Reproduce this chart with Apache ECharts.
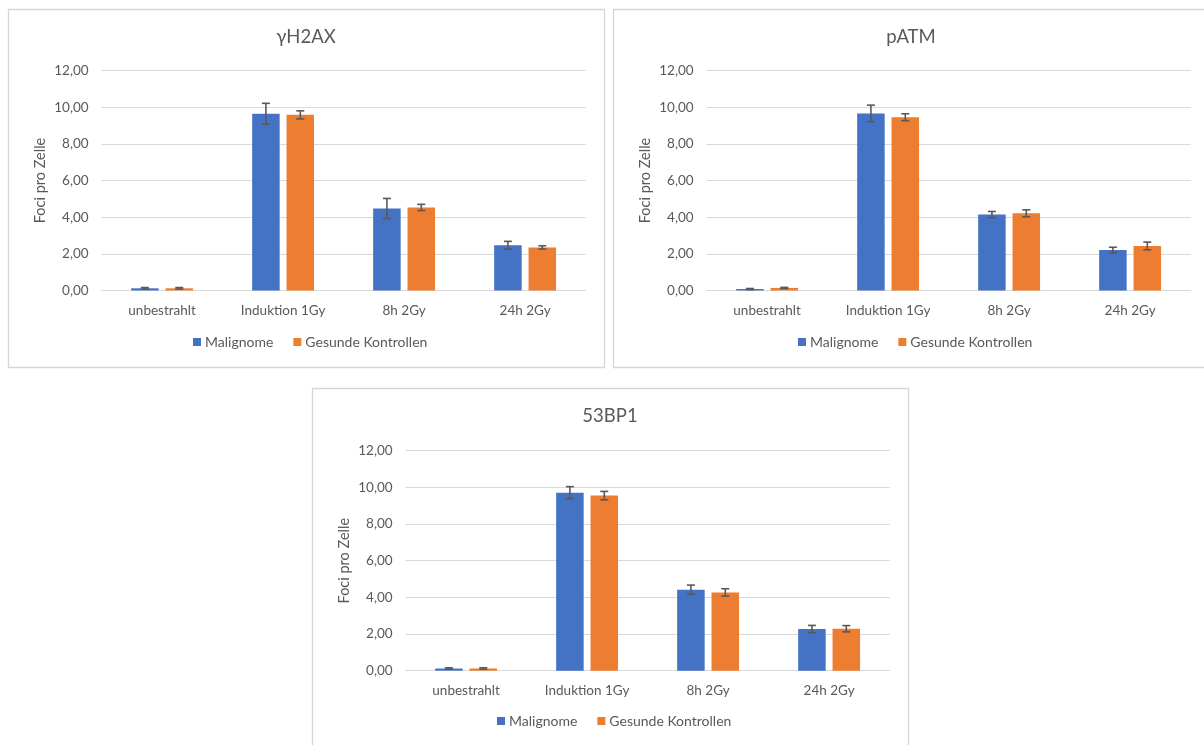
<!DOCTYPE html>
<html>
<head>
<meta charset="utf-8">
<script src="https://cdn.jsdelivr.net/npm/echarts@6/dist/echarts.min.js"></script>
<style>
  html, body { margin: 0; padding: 0; background: #ffffff; overflow: hidden; }
  #chart { width: 1204px; height: 745px; }
</style>
</head>
<body>
<div id="chart"></div>
<script>
// ---- data ----
const categories = ['unbestrahlt', 'Induktion 1Gy', '8h 2Gy', '24h 2Gy'];
const seriesNames = ['Malignome', 'Gesunde Kontrollen'];
const yTicks = [0, 2, 4, 6, 8, 10, 12];

// γH2AX
const h2axMalignome = [0.12, 9.64, 4.47, 2.47];
const h2axMalignomeErr = [0.04, 0.57, 0.55, 0.21];
const h2axGesund = [0.12, 9.58, 4.53, 2.35];
const h2axGesundErr = [0.04, 0.22, 0.17, 0.09];

// pATM
const patmMalignome = [0.08, 9.66, 4.14, 2.21];
const patmMalignomeErr = [0.03, 0.45, 0.17, 0.15];
const patmGesund = [0.14, 9.45, 4.21, 2.43];
const patmGesundErr = [0.03, 0.19, 0.19, 0.21];

// 53BP1
const bp1Malignome = [0.12, 9.71, 4.42, 2.27];
const bp1MalignomeErr = [0.04, 0.33, 0.25, 0.20];
const bp1Gesund = [0.12, 9.55, 4.27, 2.29];
const bp1GesundErr = [0.04, 0.23, 0.20, 0.17];

const panelData = [
  { title: 'γH2AX', values: [h2axMalignome, h2axGesund], errors: [h2axMalignomeErr, h2axGesundErr] },
  { title: 'pATM',  values: [patmMalignome, patmGesund], errors: [patmMalignomeErr, patmGesundErr] },
  { title: '53BP1', values: [bp1Malignome, bp1Gesund], errors: [bp1MalignomeErr, bp1GesundErr] }
];

// ---- layout & style ----
const panelBoxes = [
  { x: 8,   y: 9,   w: 596, h: 358, plotTop: 70.5 },
  { x: 613, y: 9,   w: 596, h: 358, plotTop: 70.5 },
  { x: 312, y: 388, w: 596, h: 358, plotTop: 450.7 }
];
const FONT = 'Lato, "Open Sans", sans-serif';
const TEXT = '#595959';
const GRID_LINE = '#d9d9d9';
const COLORS = ['#4472C4', '#ED7D31'];
const BAR_W = 27.5;
const BAR_GAP = 0.25;
const BAR_SHIFT = BAR_W * (1 + BAR_GAP) / 2;

const grids = [], xAxes = [], yAxes = [], series = [], legends = [], graphics = [];

panelData.forEach((p, i) => {
  const b = panelBoxes[i];
  grids.push({ left: b.x + 93.6, top: b.plotTop, width: 484, height: 220 });

  xAxes.push({
    type: 'category', gridIndex: i, data: categories,
    axisLine: { lineStyle: { color: GRID_LINE, width: 1.2 } },
    axisTick: { show: false },
    axisLabel: { color: TEXT, fontFamily: FONT, fontSize: 13.5, margin: 13 }
  });

  yAxes.push({
    type: 'value', gridIndex: i,
    min: yTicks[0], max: yTicks[yTicks.length - 1], interval: yTicks[1] - yTicks[0],
    name: 'Foci pro Zelle', nameLocation: 'middle', nameGap: 54, nameRotate: 90,
    nameTextStyle: { color: TEXT, fontFamily: FONT, fontSize: 14.5 },
    axisLine: { show: false }, axisTick: { show: false },
    axisLabel: {
      color: TEXT, fontFamily: FONT, fontSize: 13.5, margin: 13,
      formatter: v => v.toFixed(2).replace('.', ',')
    },
    splitLine: { lineStyle: { color: GRID_LINE, width: 1.2 } }
  });

  p.values.forEach((vals, s) => {
    series.push({
      type: 'bar', name: seriesNames[s], xAxisIndex: i, yAxisIndex: i,
      data: vals, barWidth: BAR_W, barGap: (BAR_GAP * 100) + '%',
      itemStyle: { color: COLORS[s] },
      silent: true
    });
  });

  p.values.forEach((vals, s) => {
    const errs = p.errors[s];
    const side = s === 0 ? -1 : 1;
    series.push({
      type: 'custom', xAxisIndex: i, yAxisIndex: i, z: 10, silent: true,
      data: vals.map((v, k) => [k, v - errs[k], v + errs[k]]),
      renderItem: (params, api) => {
        const lo = api.coord([api.value(0), api.value(1)]);
        const hi = api.coord([api.value(0), api.value(2)]);
        const x = lo[0] + side * BAR_SHIFT;
        const cap = 4;
        const st = { stroke: '#595959', lineWidth: 1.6 };
        return {
          type: 'group',
          children: [
            { type: 'line', shape: { x1: x, y1: hi[1], x2: x, y2: lo[1] }, style: st },
            { type: 'line', shape: { x1: x - cap, y1: hi[1], x2: x + cap, y2: hi[1] }, style: st },
            { type: 'line', shape: { x1: x - cap, y1: lo[1], x2: x + cap, y2: lo[1] }, style: st }
          ]
        };
      }
    });
  });

  legends.push({
    data: seriesNames, left: b.x + 185, top: b.y + 326, padding: 0,
    itemWidth: 8, itemHeight: 8, itemGap: 20, icon: 'rect',
    selectedMode: false,
    textStyle: { color: TEXT, fontFamily: FONT, fontSize: 14, padding: [0, 0, 0, -1] }
  });

  graphics.push({
    type: 'rect', silent: true,
    shape: { x: b.x + 0.5, y: b.y + 0.5, width: b.w, height: b.h },
    style: { fill: 'none', stroke: '#d6d6d6', lineWidth: 1.3 }
  });
  graphics.push({
    type: 'text', silent: true,
    x: b.x + b.w / 2, y: b.y + 19,
    style: {
      text: p.title, fill: TEXT, font: '18.5px ' + FONT,
      textAlign: 'center', textVerticalAlign: 'top'
    }
  });
});

const chart = echarts.init(document.getElementById('chart'), null, { renderer: 'canvas' });
chart.setOption({
  animation: false,
  backgroundColor: '#ffffff',
  grid: grids,
  xAxis: xAxes,
  yAxis: yAxes,
  legend: legends,
  series: series,
  graphic: graphics
});
</script>
</body>
</html>
